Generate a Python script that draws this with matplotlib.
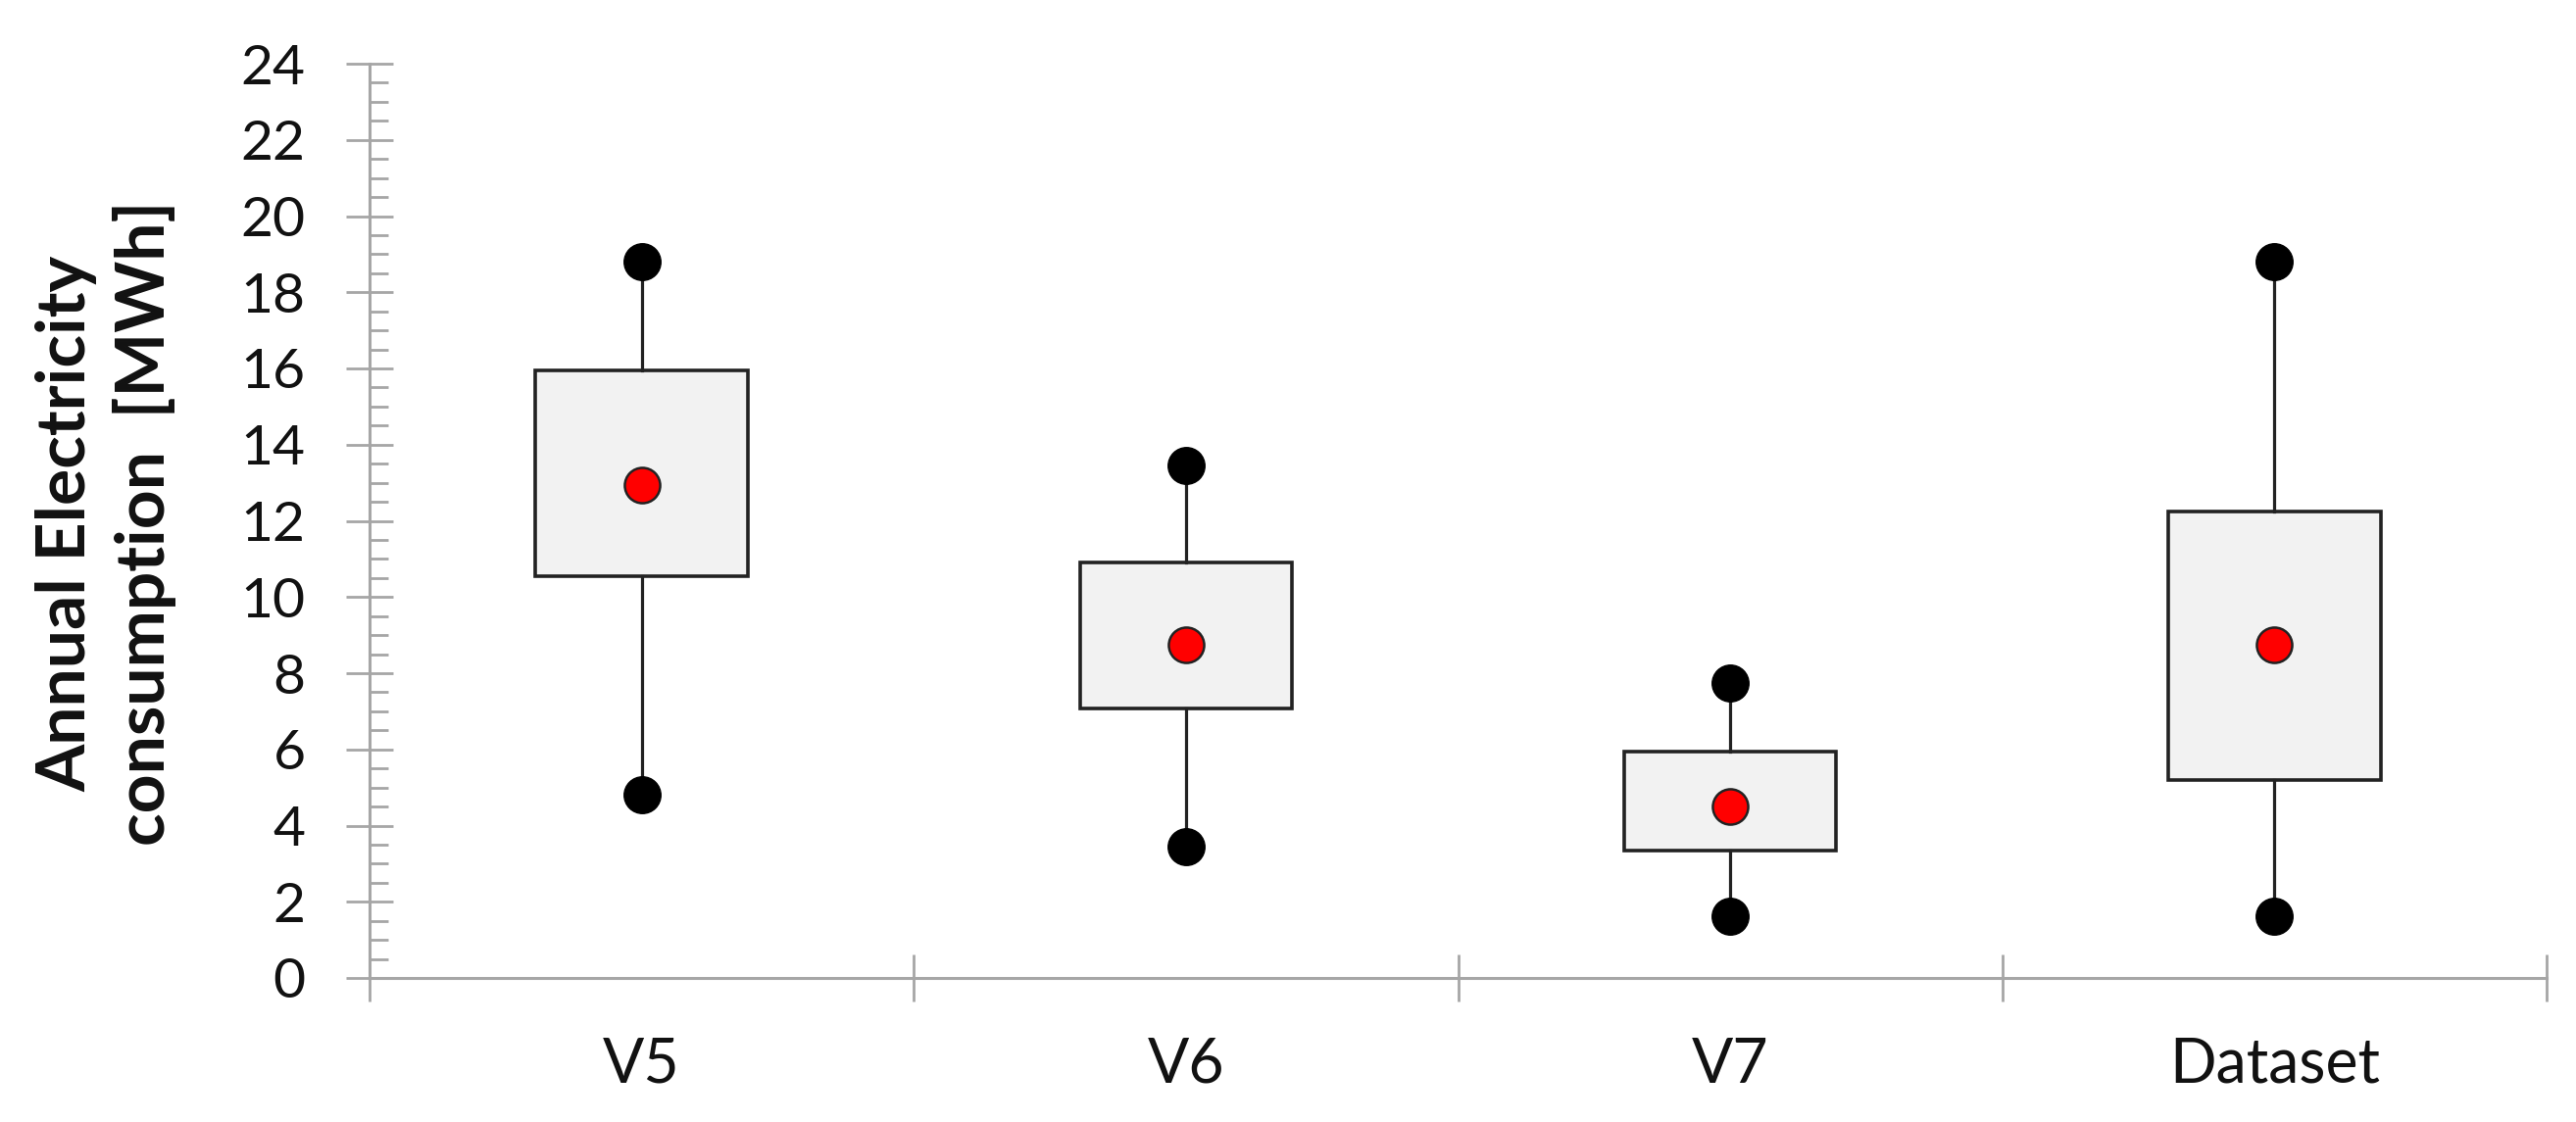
import matplotlib
matplotlib.use("Agg")
import matplotlib.pyplot as plt

categories = ["V5", "V6", "V7", "Dataset"]
minimum = [4.8, 3.45, 1.62, 1.62]
q1 = [10.55, 7.07, 3.34, 5.2]
mean = [12.94, 8.75, 4.5, 8.75]
q3 = [15.95, 10.9, 5.94, 12.25]
maximum = [18.8, 13.45, 7.74, 18.8]
yticks = list(range(0, 25, 2))

fig = plt.figure(figsize=(26.28, 11.45), dpi=100)
ax = fig.add_axes([377 / 2628, 1 - 998 / 1145, (2598 - 377) / 2628, (998 - 65) / 1145])

positions = [i + 0.5 for i in range(len(categories))]
stats = []
for c, lo, a, m, b, hi in zip(categories, minimum, q1, mean, q3, maximum):
    stats.append(dict(label=c, whislo=lo, q1=a, med=m, q3=b, whishi=hi, mean=m))

ax.bxp(stats, positions=positions, widths=0.39, showcaps=False, showfliers=False,
       showmeans=False, patch_artist=True,
       boxprops=dict(facecolor="#f2f2f2", edgecolor="#222222", linewidth=2.6),
       whiskerprops=dict(color="#222222", linewidth=2.3),
       medianprops=dict(linewidth=0), manage_ticks=False, zorder=2)

ax.plot(positions, maximum, "o", color="black", markersize=27, zorder=3, linestyle="none")
ax.plot(positions, minimum, "o", color="black", markersize=27, zorder=3, linestyle="none")
ax.plot(positions, mean, "o", markerfacecolor="#ff0000", markeredgecolor="#222222",
        markeredgewidth=1.8, markersize=26, zorder=4, linestyle="none")

ax.set_xlim(0, len(categories))
ax.set_ylim(0, 24)
for s in ["top", "right"]:
    ax.spines[s].set_visible(False)
for s in ["left", "bottom"]:
    ax.spines[s].set_color("#a6a6a6")
    ax.spines[s].set_linewidth(2.2)

ax.set_yticks(yticks)
ax.set_yticklabels([str(v) for v in yticks], fontsize=41, family="Lato", color="#111111")
ax.set_yticks([v / 2 for v in range(0, 49)], minor=True)
ax.tick_params(axis="y", which="major", direction="inout", length=34, width=2, color="#a6a6a6", pad=30)
ax.tick_params(axis="y", which="minor", direction="in", length=14, width=2, color="#a6a6a6")

ax.set_xticks(range(0, len(categories) + 1))
ax.set_xticklabels([])
ax.set_xticks(positions, minor=True)
ax.set_xticklabels(categories, minor=True, fontsize=45, family="Lato", color="#111111")
ax.tick_params(axis="x", which="major", direction="inout", length=34, width=2, color="#a6a6a6")
ax.tick_params(axis="x", which="minor", length=0, pad=43)

fig.text(108 / 2628, 1 - 534 / 1145, "Annual Electricity\nconsumption  [MWh]", rotation=90,
         ha="center", va="center", multialignment="center", linespacing=1.3,
         fontsize=50, fontweight="bold", family="Lato", color="#111111")

fig.savefig("out.png", dpi=100, facecolor="white")
